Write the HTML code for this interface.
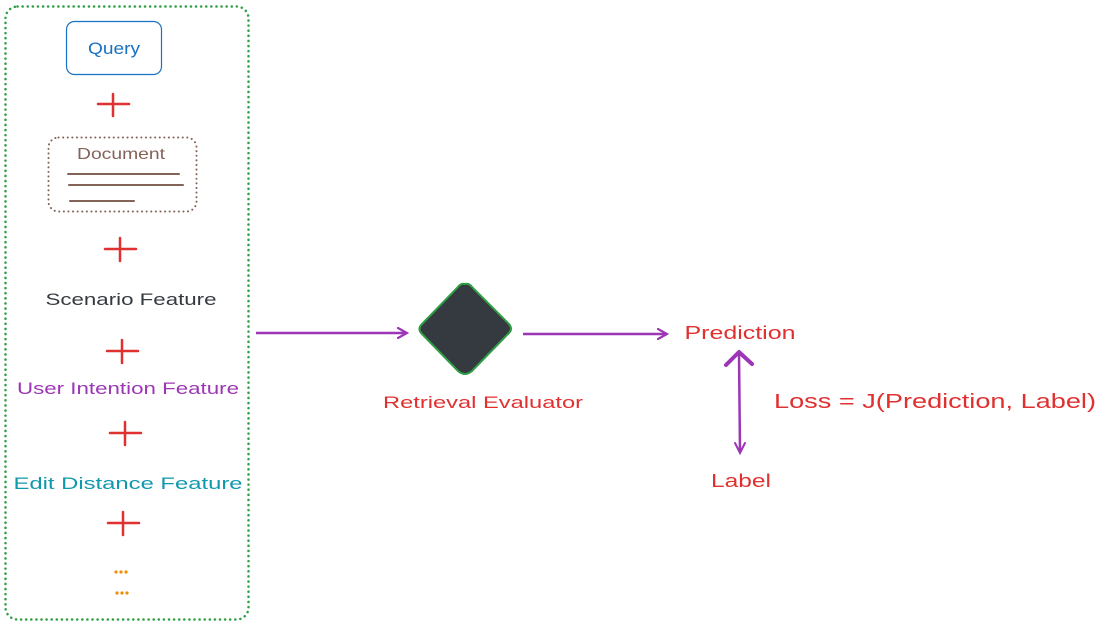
<!DOCTYPE html>
<html><head><meta charset="utf-8"><style>
html,body{margin:0;padding:0;background:#fff;width:1100px;height:625px;overflow:hidden}
text{font-family:"Liberation Sans",sans-serif}
</style></head><body>
<svg width="1100" height="625" viewBox="0 0 1100 625" xmlns="http://www.w3.org/2000/svg">
<defs>
<marker id="ah" markerWidth="12" markerHeight="12" refX="10" refY="6" orient="auto" markerUnits="userSpaceOnUse">
<path d="M1,1 L10,6 L1,11" fill="none" stroke="#9c36b5" stroke-width="2.2" stroke-linecap="round"/>
</marker>
</defs>
<rect x="5.5" y="6.5" width="243" height="613" rx="12" fill="none" stroke="#2f9e44" stroke-width="2.5" stroke-dasharray="0.1 5" stroke-linecap="round"/>
<rect x="66.5" y="21.5" width="95" height="53" rx="8" fill="none" stroke="#1971c2" stroke-width="1.2"/>
<text x="114" y="54" text-anchor="middle" font-size="17" fill="#1971c2" textLength="52" lengthAdjust="spacingAndGlyphs">Query</text>
<g stroke="#e03131" stroke-width="2.5" stroke-linecap="round" fill="none">
<path d="M98,104 H129 M113,94 V116"/>
<path d="M105,249 H136 M120,238 V261"/>
<path d="M107,351 H138 M122,340 V363"/>
<path d="M110,433 H141 M125,422 V445"/>
<path d="M108,523 H139 M123,512 V535"/>
</g>
<rect x="48.5" y="137.5" width="148" height="74" rx="10" fill="none" stroke="#846358" stroke-width="2" stroke-dasharray="0.1 4.5" stroke-linecap="round"/>
<text x="121" y="159" text-anchor="middle" font-size="16" fill="#846358" textLength="88" lengthAdjust="spacingAndGlyphs">Document</text>
<g stroke="#846358" stroke-width="2" stroke-linecap="round">
<path d="M68,174 H179"/><path d="M69,185 H183"/><path d="M70,201 H134"/>
</g>
<text x="131" y="305" text-anchor="middle" font-size="17" fill="#343a40" textLength="171" lengthAdjust="spacingAndGlyphs">Scenario Feature</text>
<text x="128" y="394" text-anchor="middle" font-size="17" fill="#9c36b5" textLength="222" lengthAdjust="spacingAndGlyphs">User Intention Feature</text>
<text x="128" y="489" text-anchor="middle" font-size="17" fill="#1098ad" textLength="229" lengthAdjust="spacingAndGlyphs">Edit Distance Feature</text>
<g fill="#f08c00">
<circle cx="116" cy="572" r="1.6"/><circle cx="121" cy="572" r="1.6"/><circle cx="126" cy="572" r="1.6"/>
<circle cx="117" cy="593" r="1.6"/><circle cx="122" cy="593" r="1.6"/><circle cx="127" cy="593" r="1.6"/>
</g>
<path d="M256,333 H407" stroke="#9c36b5" stroke-width="2.5" fill="none" marker-end="url(#ah)"/>
<path d="M465,284 Q469,283 472,287 L509,324 Q513,329 509,333 L472,371 Q465,377 458,371 L422,334 Q417,329 422,324 L458,287 Q461,283 465,284 Z" fill="#343a40" stroke="#2f9e44" stroke-width="2"/>
<text x="483" y="408" text-anchor="middle" font-size="17" fill="#e03131" textLength="200" lengthAdjust="spacingAndGlyphs">Retrieval Evaluator</text>
<path d="M523,334 H667" stroke="#9c36b5" stroke-width="2.5" fill="none" marker-end="url(#ah)"/>
<text x="740" y="339" text-anchor="middle" font-size="18" fill="#e03131" textLength="111" lengthAdjust="spacingAndGlyphs">Prediction</text>
<path d="M739,354 L740,452" stroke="#9c36b5" stroke-width="2.5" fill="none"/>
<path d="M726,365 L739,352 L752,364" stroke="#9c36b5" stroke-width="4" fill="none" stroke-linecap="round" stroke-linejoin="round"/>
<path d="M735,443 L740,453 L745,443" stroke="#9c36b5" stroke-width="2" fill="none" stroke-linecap="round"/>
<text x="935" y="408" text-anchor="middle" font-size="20" fill="#e03131" textLength="322" lengthAdjust="spacingAndGlyphs">Loss = J(Prediction, Label)</text>
<text x="741" y="487" text-anchor="middle" font-size="18" fill="#e03131" textLength="60" lengthAdjust="spacingAndGlyphs">Label</text>
</svg>
</body></html>
